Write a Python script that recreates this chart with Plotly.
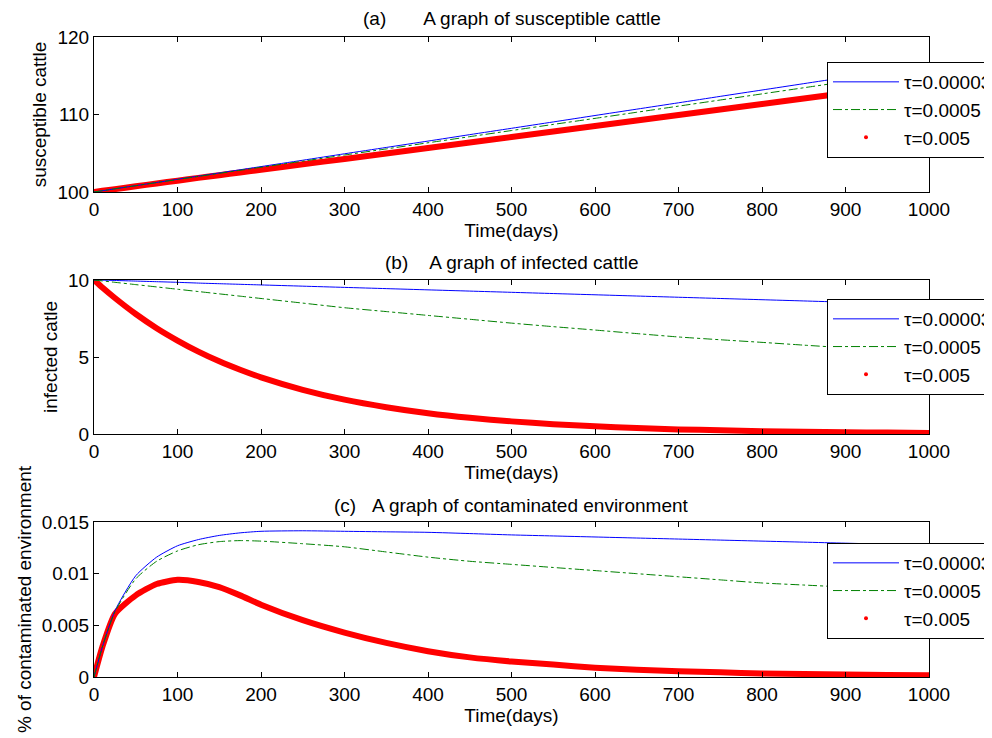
import plotly.graph_objects as go

# ---------------- data ----------------
days = [0, 10, 25, 50, 75, 100, 125, 150, 175, 200, 250, 300, 350, 400, 450,
        500, 550, 600, 650, 700, 750, 800, 850, 900, 950, 1000]

labels = ["τ=0.00003", "τ=0.0005", "τ=0.005"]

# (a) susceptible cattle
S_tau1 = [100, 100.16, 100.41, 100.82, 101.23, 101.64, 102.05, 102.46, 102.87, 103.28,
          104.1, 104.93, 105.75, 106.57, 107.4, 108.22, 109.04, 109.87, 110.69, 111.51,
          112.34, 113.16, 113.98, 114.8, 115.63, 116.45]
S_tau2 = [100, 100.16, 100.41, 100.81, 101.21, 101.61, 102.01, 102.4, 102.8, 103.19,
          103.98, 104.77, 105.56, 106.35, 107.14, 107.93, 108.72, 109.5, 110.29, 111.08,
          111.87, 112.66, 113.45, 114.24, 115.03, 115.82]
S_tau3 = [100, 100.15, 100.37, 100.74, 101.1, 101.46, 101.82, 102.17, 102.52, 102.87,
          103.57, 104.27, 104.97, 105.68, 106.38, 107.09, 107.8, 108.51, 109.22, 109.93,
          110.64, 111.35, 112.06, 112.77, 113.48, 114.2]

# (b) infected cattle
I_tau1 = [10, 9.99, 9.97, 9.93, 9.89, 9.85, 9.8, 9.76, 9.72, 9.68, 9.6, 9.52, 9.44,
          9.36, 9.28, 9.2, 9.12, 9.04, 8.96, 8.88, 8.8, 8.72, 8.64, 8.56, 8.48, 8.4]
I_tau2 = [10, 9.94, 9.85, 9.7, 9.55, 9.4, 9.25, 9.1, 8.95, 8.8, 8.5, 8.2, 7.95, 7.7,
          7.45, 7.2, 6.97, 6.75, 6.52, 6.3, 6.12, 5.95, 5.77, 5.6, 5.45, 5.3]
I_tau3 = [10, 9.51, 8.83, 7.79, 6.87, 6.07, 5.35, 4.72, 4.17, 3.68, 2.87, 2.23, 1.74,
          1.35, 1.05, 0.82, 0.64, 0.5, 0.39, 0.3, 0.24, 0.18, 0.14, 0.11, 0.09, 0.07]

# (c) contaminated environment
E_tau1 = [0, 0.0029, 0.0064, 0.0098, 0.0116, 0.0127, 0.0133, 0.0137, 0.01395, 0.0141,
          0.01415, 0.0141, 0.01405, 0.0140, 0.01388, 0.01375, 0.01365, 0.01355, 0.01345,
          0.01335, 0.01325, 0.01315, 0.01305, 0.01295, 0.01285, 0.01275]
E_tau2 = [0, 0.0029, 0.0063, 0.0095, 0.0112, 0.0122, 0.0128, 0.0131, 0.0132, 0.01315,
          0.0129, 0.0126, 0.0121, 0.0116, 0.0112, 0.0109, 0.0106, 0.0103, 0.0100, 0.0097,
          0.0094, 0.0091, 0.0089, 0.0087, 0.0085, 0.0083]
E_tau3 = [0, 0.0029, 0.0061, 0.0079, 0.0090, 0.0094, 0.0092, 0.0087, 0.0079, 0.0070,
          0.0055, 0.0043, 0.0033, 0.0025, 0.0019, 0.0015, 0.0012, 0.0009, 0.0007, 0.00055,
          0.00045, 0.00035, 0.0003, 0.00025, 0.0002, 0.00018]

titles = ["(a)" + "\u00a0" * 7 + "A graph of susceptible cattle",
          "(b)" + "\u00a0" * 4 + "A graph of infected cattle",
          "(c)" + "\u00a0" * 3 + "A graph of contaminated environment"]
ylabels = ["susceptible cattle", "infected catle", "% of contaminated environment"]
xlabel = "Time(days)"

y_ranges = [[100, 120], [0, 10], [0, 0.015]]
y_ticks = [[100, 110, 120], [0, 5, 10], [0, 0.005, 0.01, 0.015]]
y_ticktext = [["100", "110", "120"], ["0", "5", "10"], ["0", "0.005", "0.01", "0.015"]]
x_ticks = [0, 100, 200, 300, 400, 500, 600, 700, 800, 900, 1000]

# ---------------- layout geometry ----------------
# the page body adds an 8px offset, so the figure is drawn 8px smaller
OFF = 8
W, H = 992 - OFF, 738 - OFF
x_dom = [(94 - OFF) / W, (929 - OFF) / W]
y_px = [(37, 192), (280, 434), (522, 677)]
legend_top_px = [62, 299, 543]
title_px = [18, 262, 505]

FONT = "Liberation Sans, Arial, sans-serif"
BLUE = "rgb(0,0,255)"
GREEN = "rgb(0,128,0)"
RED = "rgb(255,0,0)"

fig = go.Figure()
series = [(S_tau1, S_tau2, S_tau3), (I_tau1, I_tau2, I_tau3), (E_tau1, E_tau2, E_tau3)]

for i, (s1, s2, s3) in enumerate(series):
    n = "" if i == 0 else str(i + 1)
    xa, ya = "x" + n, "y" + n
    lg = "legend" + n
    fig.add_trace(go.Scatter(x=days, y=s3, mode="lines",
                             line=dict(color=RED, width=6, shape="spline", smoothing=0.6),
                             xaxis=xa, yaxis=ya, showlegend=False, hoverinfo="skip"))
    fig.add_trace(go.Scatter(x=days, y=s1, mode="lines", name=labels[0],
                             line=dict(color=BLUE, width=1, shape="spline", smoothing=0.6),
                             xaxis=xa, yaxis=ya, legend=lg))
    fig.add_trace(go.Scatter(x=days, y=s2, mode="lines", name=labels[1],
                             line=dict(color=GREEN, width=1, dash="dashdot",
                                       shape="spline", smoothing=0.6),
                             xaxis=xa, yaxis=ya, legend=lg))
    fig.add_trace(go.Scatter(x=[None], y=[None], mode="markers", name=labels[2],
                             marker=dict(color=RED, size=4, symbol="circle"),
                             xaxis=xa, yaxis=ya, legend=lg))

layout = dict(width=W, height=H, autosize=False,
              margin=dict(l=0, r=0, t=0, b=0, autoexpand=False),
              paper_bgcolor="white", plot_bgcolor="white",
              font=dict(family=FONT, size=19, color="black"),
              annotations=[])

for i in range(3):
    n = "" if i == 0 else str(i + 1)
    top, bot = y_px[i]
    ydom = [1 - (bot - OFF) / H, 1 - (top - OFF) / H]
    axis_common = dict(showline=True, linecolor="black", linewidth=1, mirror="ticks",
                       ticks="inside", ticklen=5, tickcolor="black", showgrid=False,
                       zeroline=False, automargin=False,
                       tickfont=dict(family=FONT, size=19, color="black"))
    layout["xaxis" + n] = dict(domain=x_dom, anchor="y" + n, range=[0, 1000],
                               tickvals=x_ticks, title=dict(text=xlabel, standoff=1,
                               font=dict(family=FONT, size=19)), **axis_common)
    layout["yaxis" + n] = dict(domain=ydom, anchor="x" + n, range=y_ranges[i],
                               tickvals=y_ticks[i], ticktext=y_ticktext[i],
                               title=dict(text=ylabels[i], standoff=5,
                               font=dict(family=FONT, size=19)),
                               **axis_common)
    layout["legend" + n] = dict(x=(827 - OFF) / W, y=1 - (legend_top_px[i] - OFF) / H,
                                xanchor="left", yanchor="top", bgcolor="white",
                                bordercolor="black", borderwidth=1,
                                font=dict(family=FONT, size=19),
                                itemwidth=66, tracegroupgap=0)
    layout["annotations"].append(dict(text=titles[i], x=(x_dom[0] + x_dom[1]) / 2,
                                      y=1 - (title_px[i] - OFF) / H, xref="paper",
                                      yref="paper", xanchor="center", yanchor="middle",
                                      showarrow=False, font=dict(family=FONT, size=19)))

fig.update_layout(**layout)
fig.write_html("out.html")
